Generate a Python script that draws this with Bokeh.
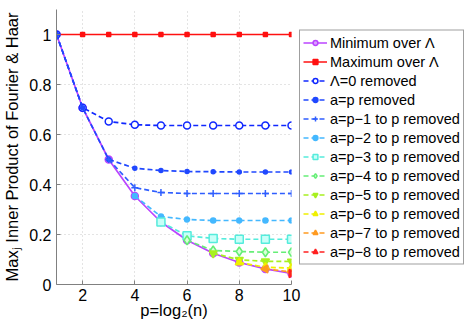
import math
from bokeh.plotting import figure
from bokeh.models import Legend, LegendItem, Range1d, FixedTicker
from bokeh.embed import file_html
from bokeh.resources import INLINE

p_vals = [1, 2, 3, 4, 5, 6, 7, 8, 9, 10]
min_vals = [1.0, 0.707, 0.5, 0.354, 0.25, 0.177, 0.125, 0.088, 0.0625, 0.044]
max_vals = [1.0, 1.0, 1.0, 1.0, 1.0, 1.0, 1.0, 1.0, 1.0, 1.0]
lam0_vals = [1.0, 0.707, 0.652, 0.639, 0.636, 0.636, 0.636, 0.636, 0.636, 0.636]
ap0_vals = [1.0, 0.707, 0.5, 0.465, 0.456, 0.452, 0.451, 0.450, 0.450, 0.450]
ap1_vals = [0.5, 0.387, 0.368, 0.364, 0.364, 0.364, 0.364, 0.364]
ap2_vals = [0.354, 0.272, 0.260, 0.256, 0.256, 0.256, 0.256]
ap3_vals = [0.25, 0.195, 0.184, 0.181, 0.181, 0.181]
ap4_vals = [0.177, 0.136, 0.132, 0.129, 0.129]
ap5_vals = [0.125, 0.099, 0.093, 0.092]
ap6_vals = [0.088, 0.069, 0.066]
ap7_vals = [0.0625, 0.050]
ap8_vals = [0.044]

labels = ["Minimum over Λ", "Maximum over Λ", "Λ=0 removed", "a=p removed",
          "a=p−1 to p removed", "a=p−2 to p removed", "a=p−3 to p removed",
          "a=p−4 to p removed", "a=p−5 to p removed", "a=p−6 to p removed",
          "a=p−7 to p removed", "a=p−8 to p removed"]

x_ticks = [2, 4, 6, 8, 10]
y_ticks = [0, 0.2, 0.4, 0.6, 0.8, 1.0]

FONT = "Liberation Sans"

p = figure(frame_width=235, frame_height=275, output_backend="svg", toolbar_location=None,
           x_range=Range1d(1, 10), y_range=Range1d(0, 1.1),
           min_border_left=47, min_border_right=0, min_border_top=9,
           min_border_bottom=30)
p.outline_line_color = None
p.background_fill_color = "white"

for ax in (p.xaxis[0], p.yaxis[0]):
    ax.axis_line_color = "#808080"
    ax.major_tick_line_color = "#808080"
    ax.minor_tick_line_color = None
    ax.major_tick_in = 4
    ax.major_tick_out = 0
    ax.major_label_text_font = FONT
    ax.major_label_text_font_size = "16px"
    ax.major_label_text_color = "black"
    ax.axis_label_text_font = FONT
    ax.axis_label_text_font_size = "16.5px"
    ax.axis_label_text_font_style = "normal"
    ax.axis_label_text_color = "black"

p.xaxis.ticker = FixedTicker(ticks=x_ticks)
p.yaxis.ticker = FixedTicker(ticks=y_ticks)
p.yaxis.major_label_overrides = {0: "0", 1.0: "1"}
p.xaxis.axis_label = "p=log₂(n)"
p.yaxis.axis_label = "Maxⱼ Inner Product of Fourier & Haar"
p.xaxis.axis_label_standoff = -3
p.yaxis.axis_label_standoff = 5
p.xaxis.major_label_standoff = 4

for g in (p.xgrid[0], p.ygrid[0]):
    g.grid_line_color = "#c8c8c8"
    g.grid_line_dash = "1 3"
    g.grid_line_width = 1

items = []

def add_series(xs, ys, color, marker, label, dash="solid", size=6,
               fill="same", angle=0.0, lw=1.7):
    r_line = p.line(xs, ys, line_color=color, line_width=lw, line_dash=dash)
    fc = color if fill == "same" else fill
    r_mark = p.scatter(xs, ys, marker=marker, size=size, line_color=color,
                       fill_color=fc, line_width=1.5, angle=angle)
    items.append(LegendItem(label=label, renderers=[r_line, r_mark]))

dash = "5 3"
add_series(p_vals, min_vals, "#bb44ff", "circle", labels[0], size=7, fill="#d9a0ff")
add_series(p_vals, max_vals, "#ff1010", "square", labels[1], size=4)
add_series(p_vals, lam0_vals, "#1028ff", "circle", labels[2], dash=dash, size=7, fill="white")
add_series(p_vals, ap0_vals, "#2048ff", "circle", labels[3], dash=dash, size=4)
add_series(p_vals[2:], ap1_vals, "#2f5eff", "cross", labels[4], dash=dash, size=7)
add_series(p_vals[3:], ap2_vals, "#44b8ff", "circle", labels[5], dash=dash, size=5)
add_series(p_vals[4:], ap3_vals, "#55ecdc", "square", labels[6], dash=dash, size=8, fill="#c8fff8")
add_series(p_vals[5:], ap4_vals, "#66ee77", "diamond", labels[7], dash=dash, size=9, fill="#d8ffd8")
add_series(p_vals[6:], ap5_vals, "#a8f020", "inverted_triangle", labels[8], dash=dash, size=8)
add_series(p_vals[7:], ap6_vals, "#f0f000", "triangle", labels[9], dash=dash, size=8)
add_series(p_vals[8:], ap7_vals, "#ff9a20", "triangle", labels[10], dash=dash, size=8, angle=math.pi / 2)
add_series(p_vals[9:], ap8_vals, "#ff2020", "triangle", labels[11], dash=dash, size=8, angle=-math.pi / 2)

legend = Legend(items=items, location="center_left")
legend.label_text_font = FONT
legend.label_text_font_size = "14.5px"
legend.label_text_color = "black"
legend.glyph_width = 24
legend.glyph_height = 12
legend.label_height = 18
legend.label_standoff = 3
legend.spacing = 1
legend.padding = 3
legend.margin = 8
legend.border_line_color = "#404040"
legend.border_line_width = 1
legend.background_fill_color = "white"
legend.background_fill_alpha = 1.0
p.add_layout(legend, "right")

open("out.html", "w").write(file_html(p, INLINE))
